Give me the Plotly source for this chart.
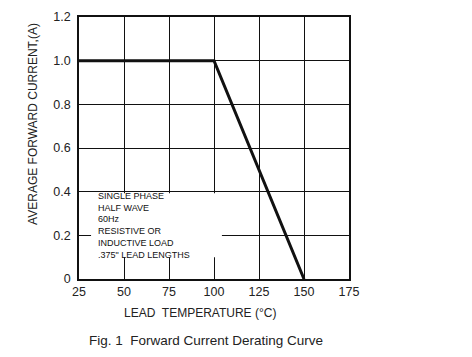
import plotly.graph_objects as go

# Data
temp_c = [25, 100, 150]
current_a = [1.0, 1.0, 0.0]
x_ticks = [25, 50, 75, 100, 125, 150, 175]
y_ticks = [0, 0.2, 0.4, 0.6, 0.8, 1.0, 1.2]
y_tick_labels = ["0", "0.2", "0.4", "0.6", "0.8", "1.0", "1.2"]
note_lines = ["SINGLE PHASE", "HALF WAVE", "60Hz", "RESISTIVE OR",
              "INDUCTIVE LOAD", ".375\" LEAD LENGTHS"]

FONT = "Arial, Liberation Sans, sans-serif"

fig = go.Figure()
fig.add_trace(go.Scatter(x=temp_c, y=current_a, mode="lines",
                         line=dict(color="#111111", width=3),
                         showlegend=False, hoverinfo="skip"))

fig.add_shape(type="rect", xref="x", yref="y", x0=31.7, x1=104.4, y0=0.1, y1=0.393,
              fillcolor="white", line=dict(width=0), layer="between")

fig.add_annotation(x=34.3, y=0.247, xref="x", yref="y", text="<br>".join(note_lines),
                   showarrow=False, xanchor="left", yanchor="middle", align="left",
                   font=dict(family=FONT, size=9, color="#111111"))

axis_common = dict(showgrid=True, gridcolor="#111111", gridwidth=1.3,
                   showline=True, mirror=True, linecolor="#111111", linewidth=1.6,
                   zeroline=False, ticks="", automargin=False,
                   tickfont=dict(family=FONT, size=12.5, color="#222222"))

fig.update_xaxes(range=[25, 175], tickvals=x_ticks, **axis_common)
fig.update_yaxes(range=[0, 1.2], tickvals=y_ticks, ticktext=y_tick_labels,
                 ticklabelstandoff=4, **axis_common)

fig.add_annotation(xref="paper", yref="paper", x=0, y=0.592, xshift=-46,
                   text="AVERAGE FORWARD CURRENT,(A)", textangle=-90, showarrow=False,
                   xanchor="center", yanchor="middle",
                   font=dict(family=FONT, size=12, color="#222222"))
fig.add_annotation(xref="paper", yref="paper", x=0.448, y=0, yshift=-34,
                   text="LEAD  TEMPERATURE (°C)", showarrow=False,
                   xanchor="center", yanchor="middle",
                   font=dict(family=FONT, size=12, color="#222222"))
fig.add_annotation(xref="paper", yref="paper", x=0.47, y=0, yshift=-61,
                   text="Fig. 1  Forward Current Derating Curve", showarrow=False,
                   xanchor="center", yanchor="middle",
                   font=dict(family=FONT, size=13.5, color="#222222"))

# the page body has an 8px margin, so the figure is slightly smaller than the window
fig.update_layout(width=464, height=349, margin=dict(l=71, r=123, t=9, b=78),
                  plot_bgcolor="white", paper_bgcolor="white")

fig.write_html("out.html")
